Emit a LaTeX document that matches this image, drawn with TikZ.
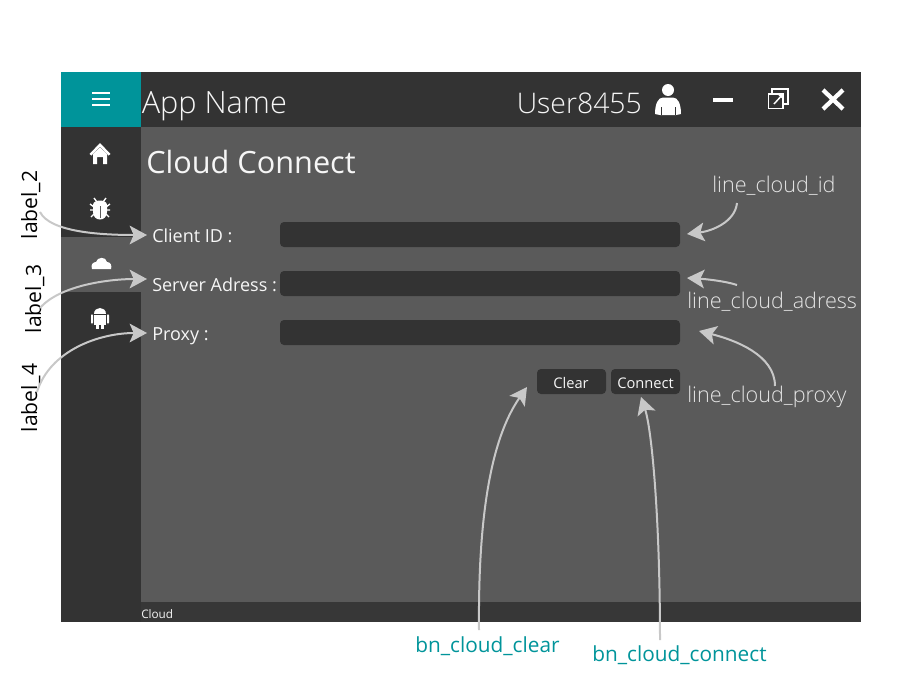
\documentclass[tikz,border=0pt]{standalone}
\usepackage{fontspec}
\setmainfont{Open Sans}
\newfontfamily\lightf{Open Sans Light}
\usetikzlibrary{arrows.meta}
\definecolor{teal1}{HTML}{00949A}
\definecolor{dark1}{HTML}{333333}
\definecolor{gray1}{HTML}{5A5A5A}
\definecolor{arr1}{HTML}{C8C8C8}
\definecolor{txt1}{HTML}{F6F6F6}
\definecolor{ntxt}{HTML}{E4E4E4}
\tikzset{
 x=0.75pt,y=0.75pt,
 uitext/.style={text=txt1,inner sep=0pt,font=\fontsize{13.5}{16}\selectfont,anchor=base west},
 smalltext/.style={text=txt1,inner sep=0pt,font=\fontsize{11}{13}\selectfont,anchor=base},
 note/.style={text=ntxt,inner sep=0pt,anchor=base west,font=\lightf\fontsize{16.2}{19}\selectfont},
 notet/.style={text=teal1,inner sep=0pt,anchor=base west,font=\fontsize{15.6}{19}\selectfont},
 notev/.style={text=black,inner sep=0pt,rotate=90,anchor=base,font=\fontsize{15.8}{19}\selectfont},
 callout/.style={draw=arr1,line width=1.5pt,-{Stealth[length=13pt,width=14pt,inset=3pt]}},
 field/.style={fill=dark1,rounded corners=3pt},
 icon/.style={fill=white,draw=none},
 iconline/.style={draw=white,line cap=butt},
}
\begin{document}
\begin{tikzpicture}
\useasboundingbox (0,0) rectangle (921,-693);
% window
\fill[gray1] (61,-72) rectangle (861,-622);
\fill[dark1] (61,-72) rectangle (141,-622);
\fill[dark1] (61,-72) rectangle (861,-127);
\fill[teal1] (61,-72) rectangle (141,-127);
\fill[gray1] (61,-237) rectangle (141,-292);
\fill[dark1!90!gray1] (141,-602) rectangle (861,-622);
% fields
\fill[field] (280,-222) rectangle (680,-247);
\fill[field] (280,-271) rectangle (680,-296);
\fill[field] (280,-320) rectangle (680,-345);
\fill[field] (537,-369) rectangle (606,-394);
\fill[field] (611,-369) rectangle (680,-394);
% hamburger
\foreach \yy in {93,99,105}{\draw[iconline,line width=1.2pt] (92,-\yy) -- (110,-\yy);}
% home
\fill[icon] (100,-143) -- (110.5,-154) -- (108.5,-155.5) -- (100,-146.5) -- (91.5,-155.5) -- (89.5,-154) -- cycle;
\fill[icon] (93,-154) -- (100,-147) -- (107,-154) -- (107,-164) -- (103,-164) -- (103,-157) -- (97,-157) -- (97,-164) -- (93,-164) -- cycle;
% bug
\fill[icon] (93,-205) .. controls (93,-199) and (107,-199) .. (107,-205) -- (107,-212) .. controls (107,-222) and (93,-222) .. (93,-212) -- cycle;
\fill[gray1] (99.5,-206) rectangle (100.5,-218);
\draw[iconline,line width=1pt] (94,-198) -- (97,-202) (106,-198) -- (103,-202) (90,-204) -- (94,-207) (110,-204) -- (106,-207) (90,-210) -- (94,-210) (110,-210) -- (106,-210) (91,-217) -- (94,-214) (109,-217) -- (106,-214);
% cloud
\fill[icon] (92,-269) .. controls (90,-264) and (94,-262) .. (96,-262) .. controls (97,-257) and (106,-256) .. (107,-262) .. controls (111,-262) and (112,-266) .. (111,-269) -- cycle;
% android
\fill[icon] (94,-314) .. controls (94,-306) and (106,-306) .. (106,-314) -- cycle;
\fill[icon] (94,-315) rectangle (106,-325);
\fill[icon] (96,-325) rectangle (99,-329);
\fill[icon] (101,-325) rectangle (104,-329);
\fill[icon,rounded corners=1pt] (91,-314) rectangle (93,-324);
\fill[icon,rounded corners=1pt] (107,-314) rectangle (109,-324);
% user
\fill[icon] (668,-90) circle[radius=6];
\fill[icon] (655,-114) .. controls (655,-104) and (658,-97.5) .. (663,-97.5) -- (673,-97.5) .. controls (678,-97.5) and (681,-104) .. (681,-114) -- (676,-115) -- (660,-115) -- cycle;
\draw[dark1,line width=0.7pt] (661,-115) -- (661,-107) (675,-115) -- (675,-107);
% minimize
\fill[icon] (713,-98) rectangle (733,-102);
% restore
\draw[white,line width=1.1pt] (772,-94) -- (772,-89) -- (788,-89) -- (788,-104) -- (784,-104);
\draw[white,line width=1.1pt] (768.5,-94) rectangle (783,-108.5);
\draw[white,line width=1.1pt,-{Stealth[length=4pt,width=4pt,inset=0pt]}] (774,-104) -- (784,-93);
% close
\draw[iconline,line width=3.2pt] (823,-90) -- (843,-109) (843,-90) -- (823,-109);
% texts
\node[uitext,font=\lightf\fontsize{23}{27}\selectfont] (appname) at (141.5,-113) {App Name};
\node[uitext,font=\lightf\fontsize{21.3}{27}\selectfont] (user) at (516.5,-113) {User8455};
\node[uitext,font=\fontsize{23}{27}\selectfont] (title) at (146,-173.5) {Cloud Connect};
\node[uitext] (client) at (152,-242) {Client ID :};
\node[uitext] (server) at (152,-291.5) {Server Adress :};
\node[uitext] (proxy) at (152,-340.5) {Proxy :};
\node[smalltext] (clear) at (571,-388) {Clear};
\node[smalltext] (connect) at (645.5,-388) {Connect};
\node[uitext,font=\fontsize{8.8}{10}\selectfont] (status) at (141,-618) {Cloud};
% annotation labels
\node[notev] (lab2) at (37,-205) {label\_2};
\node[notev] (lab3) at (41,-299) {label\_3};
\node[notev] (lab4) at (37,-398) {label\_4};
\node[note] (nid) at (712,-192.5) {line\_cloud\_id};
\node[note] (nad) at (687,-308.5) {line\_cloud\_adress};
\node[note] (npr) at (687,-402) {line\_cloud\_proxy};
\node[notet] (nclr) at (415,-652) {bn\_cloud\_clear};
\node[notet] (ncon) at (592,-661) {bn\_cloud\_connect};
% tips
\coordinate (tcl) at (147,-235);
\coordinate (tse) at (147,-279);
\coordinate (tpr) at (147,-333);
\coordinate (tid) at (687,-234);
\coordinate (tad) at (687,-278);
\coordinate (tpx) at (699,-331);
\coordinate (tclr) at (527,-387);
\coordinate (tcon) at (641,-397);
% callouts
\draw[callout] ([shift={(3,-7)}]lab2.base) .. controls (50,-232) and (100,-235) .. (tcl);
\draw[callout] ([shift={(-1,-9)}]lab3.base) .. controls (60,-285) and (110,-279) .. (tse);
\draw[callout] ([shift={(0,6)}]lab4.base) .. controls (50,-350) and (100,-333) .. (tpr);
\draw[callout] ([shift={(25,-10.5)}]nid.base west) .. controls (735,-222) and (712,-231) .. (tid);
\draw[callout] ([shift={(50,23.5)}]nad.base west) .. controls (725,-281) and (705,-279) .. (tad);
\draw[callout] ([shift={(88,16)}]npr.base west) .. controls (775,-355) and (735,-340) .. (tpx);
\draw[callout] ([shift={(64,22)}]nclr.base west) .. controls (478,-520) and (490,-440) .. (tclr);
\draw[callout] ([shift={(68,21)}]ncon.base west) .. controls (660,-520) and (652,-430) .. (tcon);
\end{tikzpicture}
\end{document}
